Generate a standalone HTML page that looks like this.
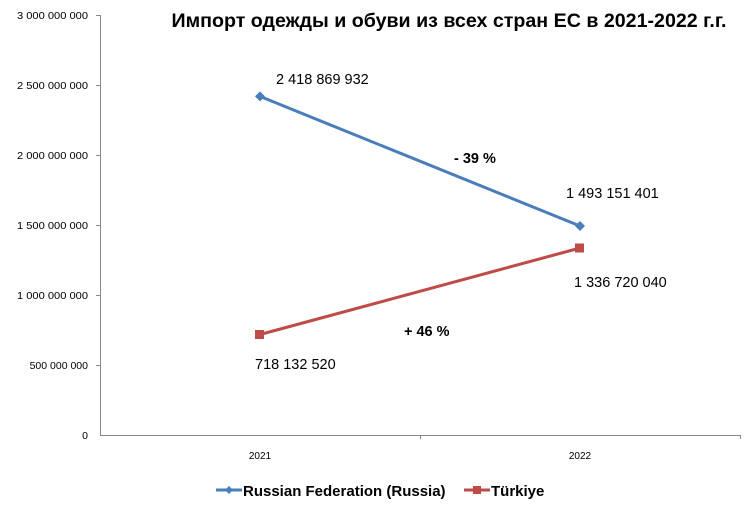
<!DOCTYPE html>
<html><head><meta charset="utf-8"><style>
body{margin:0;background:#fff;}
svg{display:block;font-family:"Liberation Sans",sans-serif;}
</style></head><body>
<svg width="750" height="506" viewBox="0 0 750 506">
<rect width="750" height="506" fill="#fff"/>
<text x="449" y="27" font-size="19" font-weight="bold" text-anchor="middle" textLength="555" lengthAdjust="spacingAndGlyphs">Импорт одежды и обуви из всех стран ЕС в 2021-2022 г.г.</text>
<g stroke="#888" stroke-width="1">
<line x1="100.5" y1="15" x2="100.5" y2="435"/>
<line x1="100" y1="435.5" x2="740" y2="435.5"/>
<line x1="96" y1="15.5" x2="100" y2="15.5"/>
<line x1="96" y1="85.5" x2="100" y2="85.5"/>
<line x1="96" y1="155.5" x2="100" y2="155.5"/>
<line x1="96" y1="225.5" x2="100" y2="225.5"/>
<line x1="96" y1="295.5" x2="100" y2="295.5"/>
<line x1="96" y1="365.5" x2="100" y2="365.5"/>
<line x1="420.5" y1="435" x2="420.5" y2="439"/>
<line x1="740.5" y1="435" x2="740.5" y2="439"/>
</g>
<g font-size="10.5" text-anchor="end">
<text x="88" y="19" textLength="71" lengthAdjust="spacingAndGlyphs">3 000 000 000</text>
<text x="88" y="89" textLength="71" lengthAdjust="spacingAndGlyphs">2 500 000 000</text>
<text x="88" y="159" textLength="71" lengthAdjust="spacingAndGlyphs">2 000 000 000</text>
<text x="88" y="229" textLength="71" lengthAdjust="spacingAndGlyphs">1 500 000 000</text>
<text x="88" y="299" textLength="71" lengthAdjust="spacingAndGlyphs">1 000 000 000</text>
<text x="88" y="369">500 000 000</text>
<text x="88" y="439">0</text>
</g>
<g font-size="10" text-anchor="middle">
<text x="260" y="459">2021</text>
<text x="580" y="459">2022</text>
</g>
<polyline points="260,96.4 580,226" fill="none" stroke="#4a7ebb" stroke-width="3"/>
<polyline points="260,334.5 580,248" fill="none" stroke="#be4b48" stroke-width="3"/>
<polygon points="260,91.4 265,96.4 260,101.4 255,96.4" fill="#4a7ebb"/>
<polygon points="580,221 585,226 580,231 575,226" fill="#4a7ebb"/>
<rect x="255" y="330" width="9" height="9" fill="#be4b48"/>
<rect x="575" y="243.5" width="9" height="9" fill="#be4b48"/>
<g font-size="14.5">
<text x="276" y="84">2 418 869 932</text>
<text x="566" y="198">1 493 151 401</text>
<text x="255" y="369">718 132 520</text>
<text x="574" y="287">1 336 720 040</text>
<text x="454" y="163" font-weight="bold">- 39 %</text>
<text x="404" y="336" font-weight="bold">+ 46 %</text>
</g>
<line x1="216" y1="490" x2="242" y2="490" stroke="#4a7ebb" stroke-width="3"/>
<polygon points="229,486 233,490 229,494 225,490" fill="#4a7ebb"/>
<text x="243" y="496" font-size="15" font-weight="bold">Russian Federation (Russia)</text>
<line x1="464" y1="490" x2="490" y2="490" stroke="#be4b48" stroke-width="3"/>
<rect x="473" y="486" width="8" height="8" fill="#be4b48"/>
<text x="491" y="496" font-size="15" font-weight="bold">Türkiye</text>
</svg>
</body></html>
